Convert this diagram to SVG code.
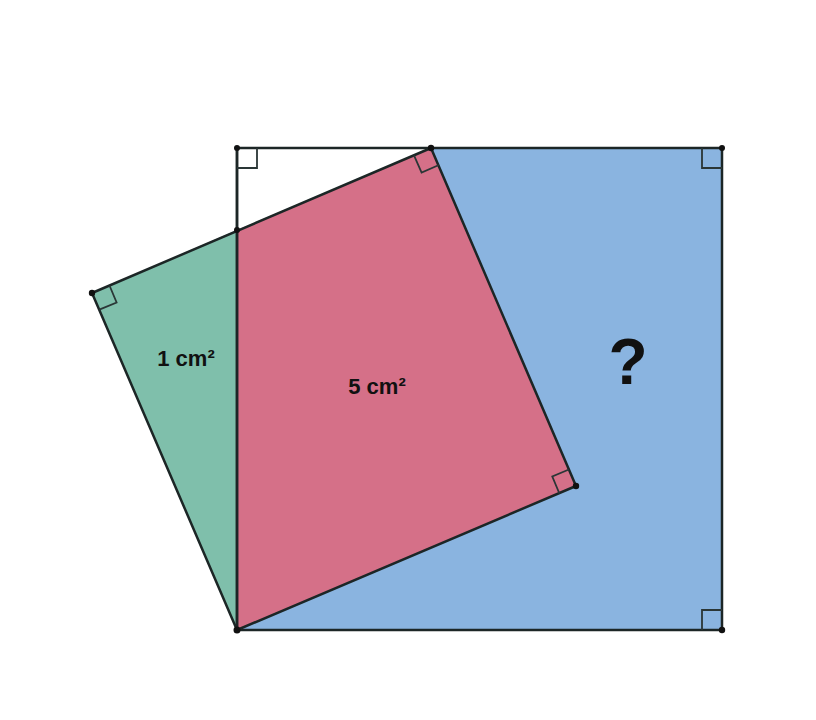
<svg xmlns="http://www.w3.org/2000/svg" width="816" height="720" viewBox="0 0 816 720">
<style>
.edge{fill:none;stroke:#1c2626;stroke-width:2.5;stroke-linejoin:round}
.mark{fill:none;stroke:#2a3636;stroke-width:1.8}
.dot{fill:#111}
.lbl{font-family:"Liberation Sans",Arial,sans-serif;font-weight:bold;fill:#111;text-anchor:middle}
</style>
<rect width="816" height="720" fill="#ffffff"/>
<g id="white-triangle"><polygon points="237,148 431,148 237,230" fill="#ffffff"/></g>
<g id="blue-region"><polygon points="431,148 722,148 722,630 237,630 576,486" fill="#8ab4e0"/></g>
<g id="green-region"><polygon points="92,293 237,230 237,630" fill="#7fbfab"/></g>
<g id="red-region"><polygon points="237,230 431,148 576,486 237,630" fill="#d57088"/></g>
<g id="connectors">
<polygon class="edge" points="237,148 722,148 722,630 237,630"/>
<polygon class="edge" points="92,293 431,148 576,486 237,630"/>
<line class="edge" x1="237" y1="148" x2="237" y2="630"/>
<polyline class="mark" points="237,168 257,168 257,148"/>
<polyline class="mark" points="702,148 702,168 722,168"/>
<polyline class="mark" points="702,630 702,610 722,610"/>
<polyline class="mark" points="414,155.3 421.6,172.6 438.9,165"/>
<polyline class="mark" points="109.5,285.5 116.6,302.5 99.3,309.7"/>
<polyline class="mark" points="568.9,469.5 552.3,476.5 559.4,493.5"/>
</g>
<g id="vertices">
<circle class="dot" cx="237" cy="148" r="3"/>
<circle class="dot" cx="431" cy="148" r="3.2"/>
<circle class="dot" cx="722" cy="148" r="3"/>
<circle class="dot" cx="92" cy="293" r="3.2"/>
<circle class="dot" cx="237" cy="230" r="3"/>
<circle class="dot" cx="576" cy="486" r="3.2"/>
<circle class="dot" cx="237" cy="630" r="3.5"/>
<circle class="dot" cx="722" cy="630" r="3.2"/>
</g>
<g id="labels">
<text class="lbl" x="186" y="366" font-size="22">1 cm²</text>
<text class="lbl" x="377" y="394" font-size="22">5 cm²</text>
<text class="lbl" x="628" y="384" font-size="64">?</text>
</g>
</svg>
